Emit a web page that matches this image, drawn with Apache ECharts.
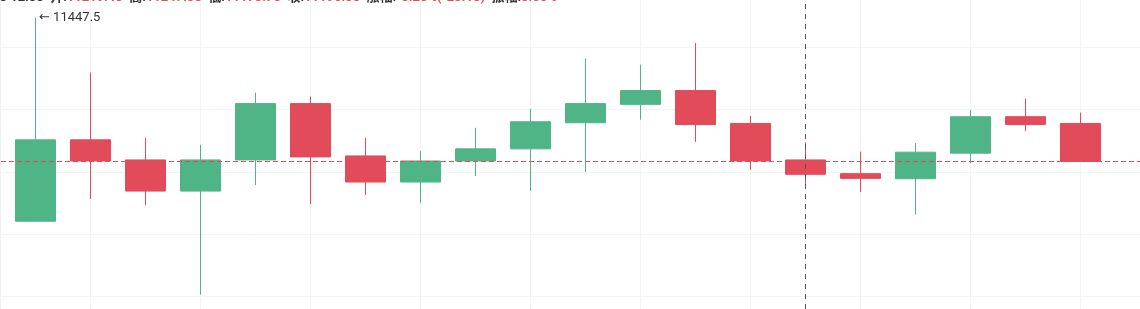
<!DOCTYPE html>
<html>
<head>
<meta charset="utf-8">
<script src="https://cdn.jsdelivr.net/npm/echarts@6/dist/echarts.min.js"></script>
<style>
html,body{margin:0;padding:0;background:#fff;overflow:hidden;width:1140px;height:309px;position:relative;}
#chart{position:absolute;left:-47px;top:-15px;width:1210px;height:374px;}
</style>
</head>
<body>
<div id="chart"></div>
<script>
// categories (hourly candles); blank padding slot on each side of the window
const categories = ['', '05-19 22:00','05-19 23:00','05-20 00:00','05-20 01:00','05-20 02:00','05-20 03:00',
  '05-20 04:00','05-20 05:00','05-20 06:00','05-20 07:00','05-20 08:00','05-20 09:00','05-20 10:00',
  '05-20 11:00','05-20 12:00','05-20 13:00','05-20 14:00','05-20 15:00','05-20 16:00','05-20 17:00', ''];
const openValues  = ['-',11121.0,11251.6,11219.4,11169.4,11219.4,11309.7,11225.8,11183.9,11217.7,11237.1,11279.0,11308.5,11330.6,11277.9,11219.4,11197.3,11189.2,11230.2,11288.7,11277.9,'-'];
const closeValues = ['-',11251.6,11217.7,11169.4,11219.4,11309.7,11224.2,11183.9,11217.7,11237.1,11280.6,11309.7,11330.6,11276.3,11217.7,11196.3,11189.8,11231.8,11288.7,11276.3,11216.9,'-'];
const lowValues   = ['-',11121.0,11156.5,11146.8,11003.2,11179.0,11148.4,11162.9,11150.0,11193.5,11169.4,11200.0,11283.9,11248.4,11203.7,11173.7,11167.7,11131.8,11214.0,11265.6,11216.9,'-'];
const highValues  = ['-',11447.5,11359.7,11254.8,11243.5,11327.4,11321.0,11254.8,11233.9,11270.9,11301.6,11382.3,11372.1,11406.9,11289.8,11247.3,11232.7,11246.3,11299.5,11317.7,11295.2,'-'];
const yTicks = { min: 10900, max: 11500, interval: 100 };
const hoverIndex = 15;
const highestLabel = '← 11447.5';

const UP = '#4fb587', DOWN = '#e14b5a';

const ohlc = categories.map((c, i) => openValues[i] === '-' ? '-' :
  [openValues[i], closeValues[i], lowValues[i], highValues[i]]);
const lastClose = closeValues[closeValues.length - 2];
let hiIdx = 1;
highValues.forEach((v, i) => { if (v !== '-' && v > highValues[hiIdx]) hiIdx = i; });

const chart = echarts.init(document.getElementById('chart'), null, { renderer: 'canvas' });
chart.setOption({
  animation: false,
  backgroundColor: '#ffffff',
  title: {
    left: 19, top: 6, padding: 0,
    text: '{d|05-20 12:00  开:}{r|11219.40}{d|  高:}{r|11247.30}{d|  低:}{r|11173.70}{d|  收:}{r|11196.30}{d|  涨幅:}{r|-0.20%(-23.10)}{d|  振幅:}{r|0.65%}',
    textStyle: {
      fontSize: 13, fontFamily: 'Roboto, "Noto Sans CJK SC", sans-serif',
      rich: {
        d: { color: '#333333', fontSize: 13, fontFamily: 'Roboto, "Noto Sans CJK SC", sans-serif' },
        r: { color: DOWN, fontSize: 13, fontFamily: 'Roboto, sans-serif' }
      }
    }
  },
  grid: { left: 0, right: 0, top: 0, bottom: 0, containLabel: false },
  xAxis: {
    type: 'category', data: categories, boundaryGap: true,
    axisLine: { show: false }, axisTick: { show: false }, axisLabel: { show: false },
    splitLine: { show: true, interval: function (i) { return i % 2 === 0; }, alignWithLabel: true,
      lineStyle: { color: '#f2f3f4', width: 1 } }
  },
  yAxis: {
    type: 'value', min: yTicks.min, max: yTicks.max, interval: yTicks.interval,
    axisLine: { show: false }, axisTick: { show: false }, axisLabel: { show: false },
    splitLine: { show: true, lineStyle: { color: '#f2f3f4', width: 1 } }
  },
  graphic: [{
    type: 'line', shape: { x1: 47.5, y1: 0, x2: 47.5, y2: 374 },
    style: { stroke: '#eef0f2', lineWidth: 1 }, silent: true, z: 0
  }],
  series: [{
    type: 'candlestick',
    data: ohlc,
    barWidth: 41,
    clip: false,
    itemStyle: { color: UP, color0: DOWN, borderColor: UP, borderColor0: DOWN, borderWidth: 1 },
    markPoint: {
      silent: true, animation: false,
      symbol: 'circle', symbolSize: 1,
      itemStyle: { color: 'rgba(0,0,0,0)' },
      label: {
        show: true, position: 'right', distance: 3,
        formatter: highestLabel, color: '#333333', fontSize: 13,
        fontFamily: 'Roboto, "DejaVu Sans", sans-serif'
      },
      data: [{ coord: [hiIdx, highValues[hiIdx]], value: highValues[hiIdx] }]
    }
  }, {
    type: 'line',
    data: [],
    silent: true,
    color: DOWN,
    z: 5,
    markLine: {
      silent: true, symbol: ['none', 'none'], animation: false,
      label: { show: false },
      lineStyle: { color: DOWN, type: [5, 3], width: 1, opacity: 1 },
      data: [{ yAxis: lastClose }]
    }
  }, {
    type: 'line',
    data: [],
    silent: true,
    color: '#555555',
    markLine: {
      silent: true, symbol: ['none', 'none'], animation: false,
      label: { show: false },
      lineStyle: { color: '#555555', type: [5, 5], width: 1, opacity: 1 },
      data: [{ xAxis: hoverIndex }]
    }
  }]
});
</script>
</body>
</html>
